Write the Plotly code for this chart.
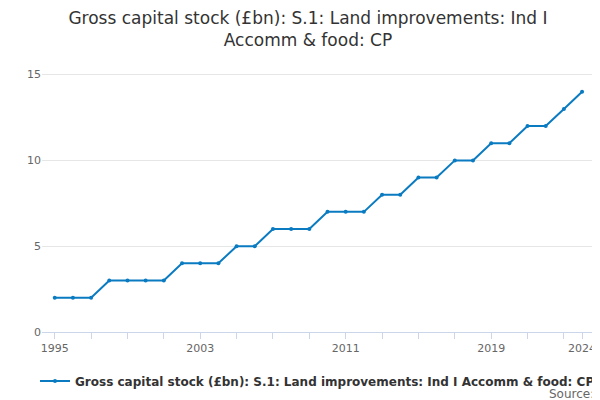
import plotly.graph_objects as go

years = list(range(1995, 2025))
values = [2, 2, 2, 3, 3, 3, 3, 4, 4, 4, 5, 5, 6, 6, 6, 7, 7, 7, 8, 8,
          9, 9, 10, 10, 11, 11, 12, 12, 13, 14]
tick_years = [1995, 2003, 2011, 2019, 2024]
series_name = "<b>Gross capital stock (£bn): S.1: Land improvements: Ind I Accomm & food: CP</b>"

fig = go.Figure()
fig.add_trace(go.Scatter(
    x=years, y=values, mode="lines+markers", name=series_name,
    line=dict(color="#0a7bc1", width=2),
    marker=dict(size=4, color="#0a7bc1"),
))

fig.update_layout(
    width=600, height=400,
    title=dict(text="Gross capital stock (£bn): S.1: Land improvements: Ind I<br>Accomm & food: CP",
               x=0.5, y=0.96, font=dict(size=17, color="#333333")),
    font=dict(family="DejaVu Sans", color="#666666", size=11),
    plot_bgcolor="white", paper_bgcolor="white",
    margin=dict(l=34, r=15, t=58, b=73),
    showlegend=True,
    legend=dict(orientation="h", x=0.5, xanchor="center", y=-0.13, yanchor="top",
                font=dict(size=12, color="#333333")),
    xaxis=dict(tickvals=tick_years, range=[1994.3, 2024.6], showgrid=False,
               ticks="outside", ticklen=6, tickcolor="#ccd6eb",
               showline=True, linecolor="#ccd6eb",
               minor=dict(dtick=2, tick0=1995, ticks="outside", ticklen=6, tickcolor="#ccd6eb")),
    yaxis=dict(range=[0, 15.5], tickvals=[0, 5, 10, 15], gridcolor="#e6e6e6", zeroline=False),
)
fig.add_annotation(text="Source:", xref="paper", yref="paper", x=1.005, y=-0.2,
                   showarrow=False, xanchor="right", yanchor="top",
                   font=dict(size=12, color="#666666"))

fig.write_html("out.html")
